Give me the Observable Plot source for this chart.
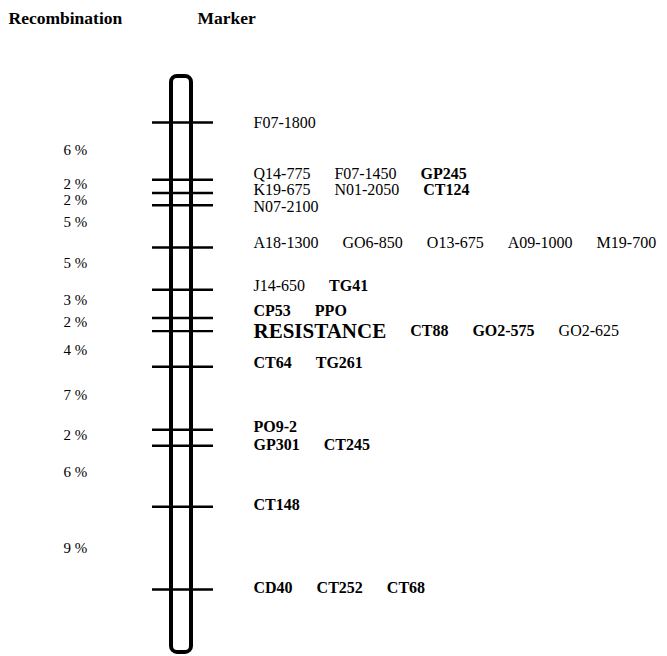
<!DOCTYPE html>
<html>
<head>
<meta charset="utf-8">
<script src="https://cdn.jsdelivr.net/npm/d3@7"></script>
<script src="https://cdn.jsdelivr.net/npm/@observablehq/plot@0.6"></script>
<style>
  html, body { margin: 0; padding: 0; background: #fff; }
  #chart svg { display: block; }
</style>
</head>
<body>
<div id="chart"></div>
<script>
// ---- Data ----
// Map position of each marker locus (cM-like units, top locus = 0)
const locusPos = [0, 6.1, 7.5, 8.8, 13.3, 17.8, 20.8, 22.2, 26.0, 32.7, 34.4, 40.9, 49.7];
// Recombination between adjacent loci (%)
const recombPct = [6, 2, 2, 5, 5, 3, 2, 4, 7, 2, 6, 9];
// Chromosome extent (same units)
const chromStart = -4.9;
const chromEnd = 56.4;
// Marker names at each locus
const markerNames = [
  ["F07-1800"],
  ["Q14-775", "F07-1450", "GP245"],
  ["K19-675", "N01-2050", "CT124"],
  ["N07-2100"],
  ["A18-1300", "GO6-850", "O13-675", "A09-1000", "M19-700"],
  ["J14-650", "TG41"],
  ["CP53", "PPO"],
  ["RESISTANCE", "CT88", "GO2-575", "GO2-625"],
  ["CT64", "TG261"],
  ["PO9-2"],
  ["GP301", "CT245"],
  ["CT148"],
  ["CD40", "CT252", "CT68"]
];
// Markers printed in bold
const boldMarkers = ["GP245", "CT124", "TG41", "CP53", "PPO", "RESISTANCE", "CT88", "GO2-575",
  "CT64", "TG261", "PO9-2", "GP301", "CT245", "CT148", "CD40", "CT252", "CT68"];
const headers = ["Recombination", "Marker"];

// ---- Layout (not data) ----
const W = 667, H = 656;
const FONT = "'Liberation Serif', 'Times New Roman', serif";
const labelX = 253, gap = 24;
const rowDy = [0, -6, -3, 2, -5, -4, -7, 0, -4, -3, -1, -2, -2];
const pctDy = [-1, -2, 1, -4, -5, -4, -2, 1, -3, -3, -4, 0];
const ctx = document.createElement("canvas").getContext("2d");
function textW(s, bold, size) {
  ctx.font = `${bold ? "bold " : ""}${size}px ${FONT}`;
  return ctx.measureText(s).width;
}
const rows = markerNames.map((row, i) => {
  let x = labelX;
  return row.map(name => {
    const bold = boldMarkers.includes(name);
    const size = name === "RESISTANCE" ? 21 : 16;
    const d = {name, bold, size, x, pos: locusPos[i]};
    x += textW(name, bold, size) + gap;
    return d;
  });
});
const pctLabels = recombPct.map((p, i) => ({
  text: `${p} %`, pos: (locusPos[i] + locusPos[i + 1]) / 2, i
}));

const labelMarks = rows.flatMap((row, i) => [
  Plot.text(row.filter(d => !d.bold), {
    x: "x", y: "pos", dy: rowDy[i], text: "name", textAnchor: "start",
    fontSize: 16, fill: "#000"
  }),
  Plot.text(row.filter(d => d.bold), {
    x: "x", y: "pos", dy: rowDy[i], text: "name", textAnchor: "start",
    fontSize: "size", fontWeight: "bold", fill: "#000"
  })
]);
const pctMarks = pctLabels.map(d => Plot.text([d], {
  x: 63, y: "pos", dy: pctDy[d.i], text: "text", textAnchor: "start", fontSize: 15, fill: "#000"
}));

const chart = Plot.plot({
  width: W, height: H,
  margin: 0,
  style: {fontFamily: FONT, background: "#fff", color: "#000"},
  x: {domain: [0, W], range: [0, W], axis: null},
  y: {domain: [0, 49.7], range: [122, 589], axis: null},
  marks: [
    Plot.rect([{y1: chromStart, y2: chromEnd}], {
      x1: 171, x2: 191, y1: "y1", y2: "y2",
      fill: "none", stroke: "#000", strokeWidth: 4, rx: 6
    }),
    Plot.ruleY(locusPos, {y: d => d, x1: 152, x2: 213, stroke: "#000", strokeWidth: 2.4}),
    ...pctMarks,
    ...labelMarks,
    Plot.text(headers, {
      x: (d, i) => [8, 197][i], frameAnchor: "top", dy: 11, text: d => d,
      textAnchor: "start", fontSize: 17.5, fontWeight: "bold", fill: "#000"
    })
  ]
});
document.getElementById("chart").append(chart);
</script>
</body>
</html>
